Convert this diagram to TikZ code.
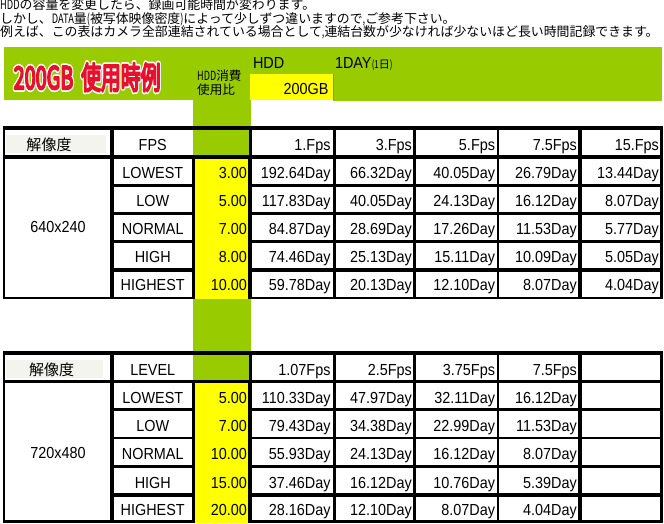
\documentclass[tikz,border=0pt]{standalone}
\usepackage{graphicx}
\usepackage{fontspec}
\setmainfont{Liberation Sans}[FakeStretch=0.9]
\newfontfamily\jp{Noto Sans CJK JP}
\definecolor{lime}{HTML}{99CC00}
\definecolor{yel}{HTML}{FFFF00}
\definecolor{ttlred}{HTML}{E8112D}
\definecolor{hdrgray}{HTML}{F4F4EF}
\definecolor{edgeor}{HTML}{F06020}
\newcommand\hw[1]{\scalebox{0.72}[1]{#1}}
\newcommand\ttlcore{200GB\hspace{12pt}使用時例}
\newcommand\ttltext{\scalebox{0.64}[1]{\jp\fontsize{31}{31}\selectfont
  \rlap{\color{white}\special{pdf:literal direct 1 Tr 5.6 w 1 J 1 j}\ttlcore\special{pdf:literal direct 0 Tr}}%
  {\color{ttlred}\special{pdf:literal direct 2 Tr 2.2 w 1 j}\ttlcore\special{pdf:literal direct 0 Tr}}}}
\begin{document}
\begin{tikzpicture}[x=1pt,y=-1pt,
  txt/.style={inner sep=0pt, outer sep=0pt, font=\fontsize{16}{16}\selectfont},
  num/.style={txt, anchor=base east},
  mid/.style={txt, anchor=base},
  jtxt/.style={inner sep=0pt, anchor=base, font=\jp\fontsize{15}{15}\selectfont},
  note/.style={inner sep=0pt, anchor=base west, font=\jp\fontsize{12.9}{13}\selectfont},
  small/.style={inner sep=0pt, anchor=base west, font=\jp\fontsize{12.6}{13}\selectfont},
]
\useasboundingbox (0,0) rectangle (664,524);
\fill[white] (0,0) rectangle (664,524);

% ---- notes ----
\node[note] (n1) at (0,10) {\hw{HDD}の容量を変更したら、録画可能時間が変わります。};
\node[note] (n2) at (0,23.5) {しかし、\hw{DATA}量\hw{(}被写体映像密度\hw{)}によって少しずつ違いますので\hw{,}ご参考下さい。};
\node[note] (n3) at (0,37) {例えば、この表はカメラ全部連結されている場合として\hw{,}連結台数が少なければ少ないほど長い時間記録できます。};

% ---- green band ----
\fill[lime] (4,46.7) rectangle (662,99.6);
\fill[lime] (333,99) rectangle (662,101.5);
\fill[lime] (193.3,99) rectangle (250.7,127);
\fill[lime] (193.3,299) rectangle (250.7,351);
\fill[yel] (250,74) rectangle (332.7,99.6);
\fill[edgeor] (332.5,74) rectangle (333.5,99.6);

% title (red, white outline)
\node[inner sep=0pt, anchor=base west] (title) at (13.5,89) {\ttltext};

\node[small] (hc1) at (197,80.8) {\hw{HDD}消費};
\node[small] (hc2) at (197,94.1) {使用比};
\node[txt, anchor=base west] (hddl) at (253,68.4) {HDD};
\node[txt, anchor=base west] (dayl) at (335,68.4) {1DAY};
\node[inner sep=0pt, anchor=base west, font=\jp\fontsize{11}{11}\selectfont] (dayj) at (dayl.base east) {\hw{(1}日\hw{)}};
\node[num] (cap) at (328.5,94.7) {200GB};

% ---- table 1 ----
\fill[black] (3.3,126) rectangle (663.3,299.3);
\foreach \xa/\xb in {5/110,114/193.3,252/332.5,336/413.3,416/496.7,499.3/578.3,581.7/660}
  \fill[white] (\xa,130) rectangle (\xb,155);
\fill[hdrgray] (6,135) rectangle (106,153.3);
\fill[lime] (193.3,130) rectangle (249.3,155);
\fill[white] (5,159.3) rectangle (110,296.7);
\fill[yel] (195,159.3) rectangle (247.5,299.3);
\foreach \ya/\yb in {159.3/184,187.3/211.7,215/240,243.3/268.3,271.7/296.7}
  \foreach \xa/\xb in {114/191.7,252/332.5,336/413.3,416/496.7,499.3/578.3,581.7/660}
    \fill[white] (\xa,\ya) rectangle (\xb,\yb);

\node[jtxt] (t1res) at (49,150.7) {解像度};
\node[mid] (t1fps) at (152.75,150) {FPS};
\node[num] (t1f1) at (330.5,150) {1.Fps};
\node[num] (t1f2) at (411.8,150) {3.Fps};
\node[num] (t1f3) at (495,150) {5.Fps};
\node[num] (t1f4) at (576.8,150) {7.5Fps};
\node[num] (t1f5) at (658.8,150) {15.Fps};
\node[mid] (t1size) at (58,232.4) {640x240};
\foreach \i/\lv/\hv/\a/\b/\c/\d/\e/\yb in {
  1/LOWEST/3.00/192.64/66.32/40.05/26.79/13.44/178.4,
  2/LOW/5.00/117.83/40.05/24.13/16.12/8.07/206.4,
  3/NORMAL/7.00/84.87/28.69/17.26/11.53/5.77/234.7,
  4/HIGH/8.00/74.46/25.13/15.11/10.09/5.05/262.4,
  5/HIGHEST/10.00/59.78/20.13/12.10/8.07/4.04/290.7}{
  \node[mid] (t1lv\i) at (152.75,\yb) {\lv};
  \node[num] (t1hv\i) at (246.8,\yb) {\hv};
  \node[num] (t1a\i) at (330.5,\yb) {\a Day};
  \node[num] (t1b\i) at (411.8,\yb) {\b Day};
  \node[num] (t1c\i) at (495,\yb) {\c Day};
  \node[num] (t1d\i) at (576.8,\yb) {\d Day};
  \node[num] (t1e\i) at (658.8,\yb) {\e Day};
}

% ---- table 2 ----
\fill[black] (3.3,350.7) rectangle (663.3,522.7);
\foreach \xa/\xb in {5/110,114/193.3,252/332.5,336/413.3,416/496.7,499.3/578.3,581.7/660}
  \fill[white] (\xa,355) rectangle (\xb,380);
\fill[hdrgray] (6,360) rectangle (102.7,378.3);
\fill[lime] (193.3,355) rectangle (249.3,380);
\fill[white] (5,383.3) rectangle (110,520);
\fill[yel] (195,383.3) rectangle (247.5,522.7);
\foreach \ya/\yb in {383.3/408.3,411/436.7,439.3/465,467.7/493.3,496.7/520}
  \foreach \xa/\xb in {114/191.7,252/332.5,336/413.3,416/496.7,499.3/578.3,581.7/660}
    \fill[white] (\xa,\ya) rectangle (\xb,\yb);

\node[jtxt] (t2res) at (51.7,375) {解像度};
\node[mid] (t2lvl) at (152.75,375) {LEVEL};
\node[num] (t2f1) at (330.5,375) {1.07Fps};
\node[num] (t2f2) at (411.8,375) {2.5Fps};
\node[num] (t2f3) at (495,375) {3.75Fps};
\node[num] (t2f4) at (576.8,375) {7.5Fps};
\node[mid] (t2size) at (58,458) {720x480};
\foreach \i/\lv/\hv/\a/\b/\c/\d/\yb in {
  1/LOWEST/5.00/110.33/47.97/32.11/16.12/403,
  2/LOW/7.00/79.43/34.38/22.99/11.53/431.4,
  3/NORMAL/10.00/55.93/24.13/16.12/8.07/459.7,
  4/HIGH/15.00/37.46/16.12/10.76/5.39/488,
  5/HIGHEST/20.00/28.16/12.10/8.07/4.04/515.7}{
  \node[mid] (t2lv\i) at (152.75,\yb) {\lv};
  \node[num] (t2hv\i) at (246.8,\yb) {\hv};
  \node[num] (t2a\i) at (330.5,\yb) {\a Day};
  \node[num] (t2b\i) at (411.8,\yb) {\b Day};
  \node[num] (t2c\i) at (495,\yb) {\c Day};
  \node[num] (t2d\i) at (576.8,\yb) {\d Day};
}
\end{tikzpicture}
\end{document}
